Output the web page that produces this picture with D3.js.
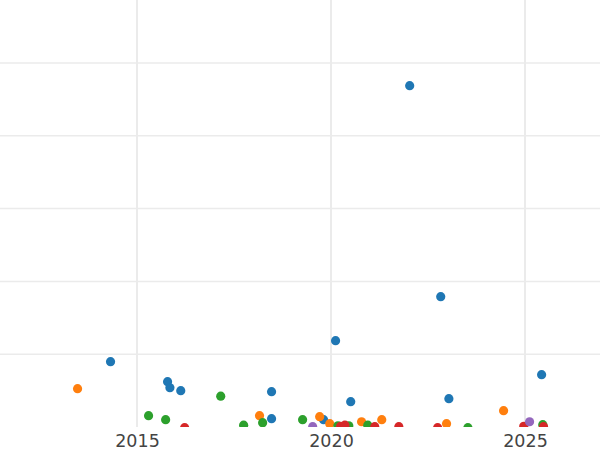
<!DOCTYPE html>
<html lang="en">
	<head>
		<meta charset="utf-8">
		<title>Scatter by year</title>
		<script src="https://d3js.org/d3.v7.min.js"></script>
		<style type="text/css">
			body { margin: 0; background: #fff; }
		</style>
	</head>
	<body>
		<script type="text/javascript">
			var width = 600;
			var height = 450;
			var plotH = 427;

			var xTicks = [2015, 2020, 2025];
			var yTicks = [10, 20, 30, 40, 50];
			var seriesColors = ["#1f77b4", "#ff7f0e", "#2ca02c", "#d62728", "#9467bd"];

			// [year, value] per series
			var blueYears = [2014.30, 2015.77, 2015.83, 2016.11, 2018.45, 2018.45, 2019.79, 2020.10, 2020.49, 2022.01, 2022.81, 2023.02, 2025.41];
			var blueValues = [9.07, 6.32, 5.49, 5.08, 4.95, 1.24, 1.10, 11.95, 3.57, 46.98, 17.99, 3.98, 7.28];
			var orangeYears = [2013.45, 2018.14, 2019.69, 2019.95, 2020.77, 2021.29, 2022.96, 2024.43];
			var orangeValues = [5.36, 1.65, 1.51, 0.55, 0.82, 1.10, 0.55, 2.34];
			var greenYears = [2015.28, 2015.72, 2017.14, 2017.73, 2018.22, 2019.25, 2020.16, 2020.44, 2020.93, 2023.51, 2025.44];
			var greenValues = [1.65, 1.10, 4.33, 0.34, 0.69, 1.10, 0.27, 0.27, 0.34, 0, 0.41];
			var redYears = [2016.21, 2020.23, 2020.34, 2021.11, 2021.73, 2022.73, 2024.95, 2025.46];
			var redValues = [0, 0.2, 0.34, 0.14, 0.14, 0, 0.2, 0.14];
			var purpleYears = [2019.51, 2025.10];
			var purpleValues = [0.14, 0.82];

			var series = [
				[blueYears, blueValues],
				[orangeYears, orangeValues],
				[greenYears, greenValues],
				[redYears, redValues],
				[purpleYears, purpleValues]
			];

			var x = d3.scaleLinear()
				.domain([2011.469, 2026.933])
				.range([0, width]);

			var y = d3.scaleLinear()
				.domain([0, 58.65])
				.range([plotH, 0]);

			var svg = d3.select("body")
				.append("svg")
				.attr("width", width)
				.attr("height", height);

			svg.append("defs").append("clipPath")
				.attr("id", "plotclip")
				.append("rect")
				.attr("x", 0).attr("y", 0)
				.attr("width", width).attr("height", plotH);

			//Gridlines
			svg.append("g")
				.selectAll("line")
				.data(yTicks)
				.enter()
				.append("line")
				.attr("x1", 0)
				.attr("x2", width)
				.attr("y1", function(d) { return y(d); })
				.attr("y2", function(d) { return y(d); })
				.attr("stroke", "#ebebeb")
				.attr("stroke-width", 1.5);

			svg.append("g")
				.selectAll("line")
				.data(xTicks)
				.enter()
				.append("line")
				.attr("x1", function(d) { return x(d); })
				.attr("x2", function(d) { return x(d); })
				.attr("y1", 0)
				.attr("y2", plotH)
				.attr("stroke", "#ebebeb")
				.attr("stroke-width", 2);

			//Points
			var points = svg.append("g")
				.attr("clip-path", "url(#plotclip)")
				.append("g")
				.attr("transform", "translate(0.7,0.7)");
			series.forEach(function(s, i) {
				points.append("g")
					.selectAll("circle")
					.data(d3.zip(s[0], s[1]))
					.enter()
					.append("circle")
					.attr("cx", function(d) { return x(d[0]); })
					.attr("cy", function(d) { return y(d[1]); })
					.attr("r", 4.6)
					.attr("fill", seriesColors[i]);
			});

			//X axis labels
			var xAxis = d3.axisBottom(x)
				.tickValues(xTicks)
				.tickFormat(d3.format("d"))
				.tickSize(0)
				.tickPadding(8);

			var gx = svg.append("g")
				.attr("transform", "translate(0," + plotH + ")")
				.call(xAxis);
			gx.select(".domain").remove();
			gx.selectAll("text")
				.attr("font-family", "DejaVu Sans, sans-serif")
				.attr("font-size", "17.5px")
				.attr("fill", "#444");
		</script>
	</body>
</html>
